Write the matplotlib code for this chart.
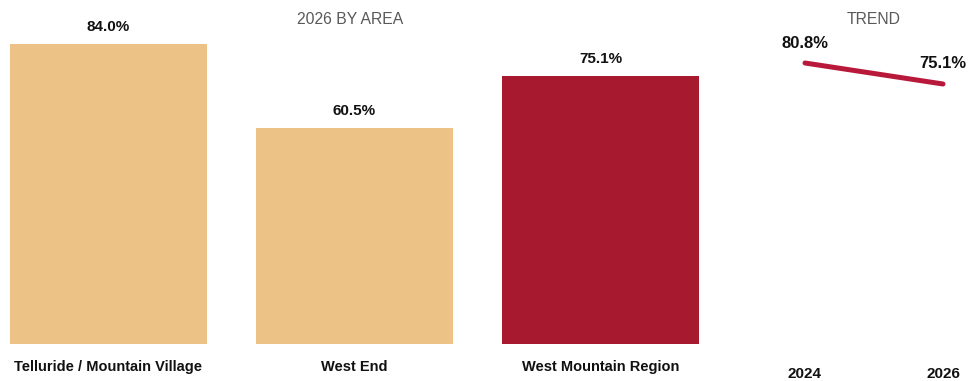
import matplotlib
matplotlib.use("Agg")
import matplotlib.pyplot as plt

plt.rcParams['font.family'] = ['Liberation Sans', 'DejaVu Sans']

# Datos
areas = ['Telluride / Mountain Village', 'West End', 'West Mountain Region']
valores_2026 = [84.0, 60.5, 75.1]
colores_barras = ['#EDC286', '#EDC286', '#A6192E']

anios = ['2024', '2026']
tendencia = [80.8, 75.1]

W, H = 968, 381
fig = plt.figure(figsize=(W / 100, H / 100), dpi=100)

# Panel de barras (en pixeles: x 0-720, y 0-344 desde arriba)
ax = fig.add_axes([0, (H - 344) / H, 720 / W, 344 / H])
x = range(len(areas))
ax.bar(x, valores_2026, width=0.8, color=colores_barras)
ax.set_xlim(-108.5 / 246, (720 - 108.5) / 246)
ax.set_ylim(0, 344 / (300 / 84))
for xi, v in zip(x, valores_2026):
    ax.annotate(f'{v:.1f}%', (xi, v), xytext=(0, 12.2), textcoords='offset points',
                ha='center', va='center', fontsize=11, fontweight='bold', color='#111111')
ax.set_xticks(list(x))
ax.set_xticklabels(areas, fontsize=10.5, fontweight='bold', color='#111111')
ax.tick_params(axis='x', length=0, pad=11.5)
ax.set_yticks([])
for s in ax.spines.values():
    s.set_visible(False)
fig.text(350 / W, 1 - 19 / H, '2026 BY AREA', ha='center', va='center',
         fontsize=11.3, color='#595959')

# Panel de tendencia
esc = 21 / (tendencia[0] - tendencia[1])
ax2 = fig.add_axes([740 / W, (H - 344) / H, 228 / W, 344 / H])
ax2.plot([0, 1], tendencia, color='#B8193A', linewidth=3.6, solid_capstyle='round')
ax2.set_xlim(-(805 - 740) / 138, (968 - 805) / 138)
ax2.set_ylim(tendencia[0] - (344 - 63) / esc, tendencia[0] + 63 / esc)
for xi, v, dy in zip([0, 1], tendencia, [14.4, 15.1]):
    ax2.annotate(f'{v:.1f}%', (xi, v), xytext=(0, dy), textcoords='offset points',
                 ha='center', va='center', fontsize=12, fontweight='bold', color='#111111')
ax2.set_xticks([0, 1])
ax2.set_xticklabels(anios, fontsize=11, fontweight='bold', color='#111111')
ax2.tick_params(axis='x', length=0, pad=16.5)
ax2.set_yticks([])
for s in ax2.spines.values():
    s.set_visible(False)
fig.text(874 / W, 1 - 20 / H, 'TREND', ha='center', va='center',
         fontsize=11.3, color='#595959')

fig.savefig('out.png', dpi=100)
